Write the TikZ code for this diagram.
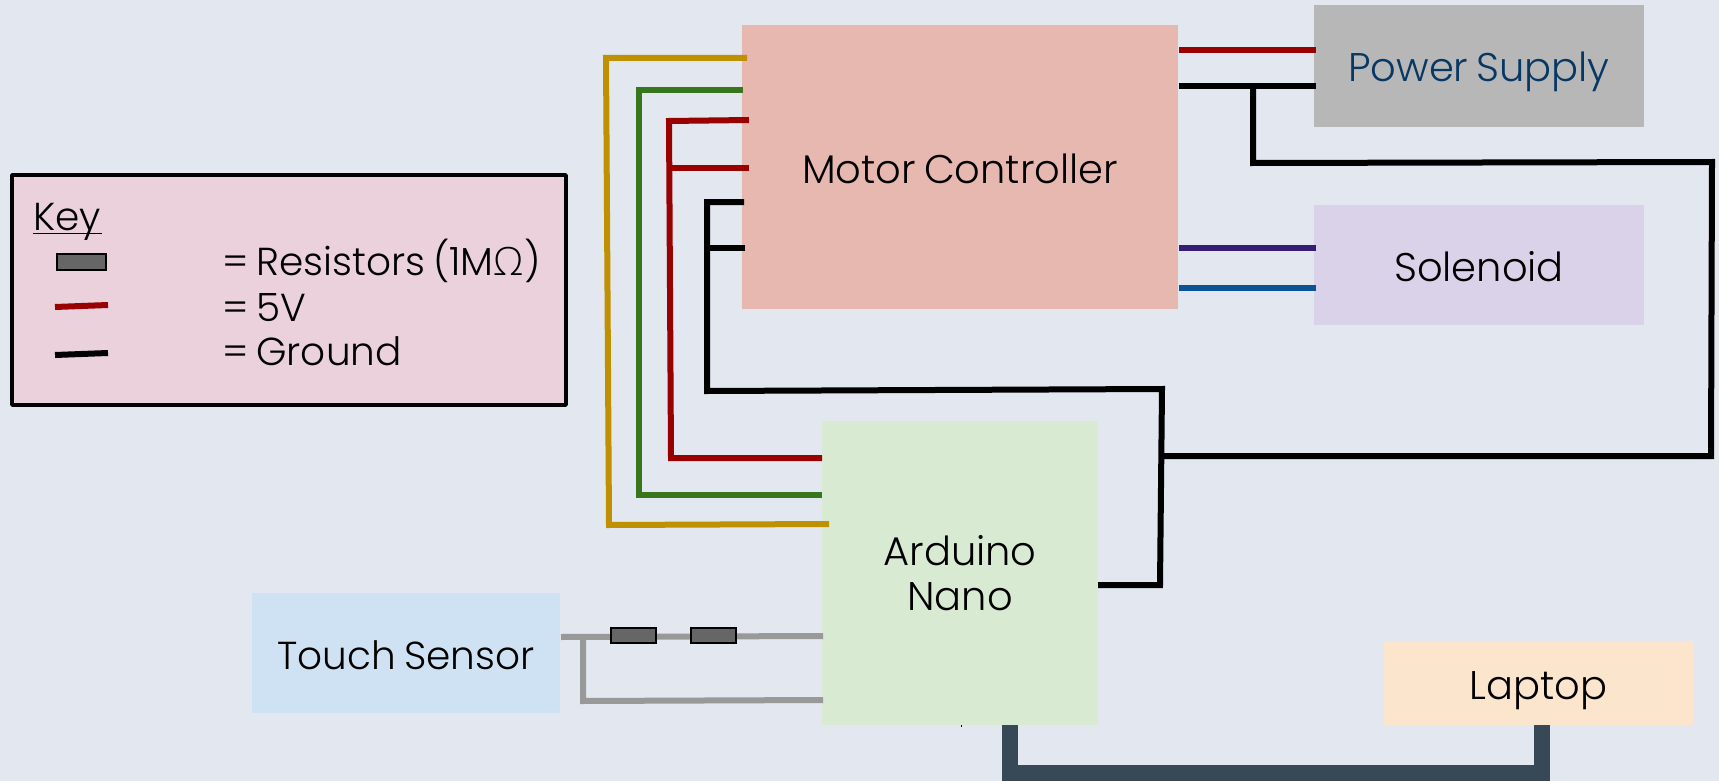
\documentclass[tikz,border=0pt]{standalone}
\usepackage{fontspec}
\setmainfont{Poppins Light}[WordSpace=0.75]
\newfontfamily\omfont{Open Sans Light}
\definecolor{bgc}{HTML}{E2E7F0}
\definecolor{motorc}{HTML}{E6B8AF}
\definecolor{powerc}{HTML}{B7B7B7}
\definecolor{solc}{HTML}{D9D2E9}
\definecolor{arduc}{HTML}{D9EAD3}
\definecolor{touchc}{HTML}{CFE2F3}
\definecolor{lapc}{HTML}{FCE5CD}
\definecolor{keyc}{HTML}{EAD1DC}
\definecolor{wred}{HTML}{990000}
\definecolor{wgold}{HTML}{BF9000}
\definecolor{wgreen}{HTML}{38761D}
\definecolor{wpurple}{HTML}{351C75}
\definecolor{wblue}{HTML}{0B5394}
\definecolor{wgrey}{HTML}{999999}
\definecolor{wdark}{HTML}{374857}
\definecolor{navy}{HTML}{073763}
\tikzset{
  box/.style={anchor=north west,inner sep=0pt,outer sep=0pt,align=center,
    font=\fontsize{40}{45}\selectfont,text=black,text height=32pt,text depth=0pt},
  wire/.style={line width=6pt,line join=miter,line cap=butt},
  resistor/.style={anchor=north west,draw=black,line width=1.5pt,fill=black!60,
    minimum width=45pt,minimum height=15pt,inner sep=0pt,outer sep=0pt},
  keytext/.style={anchor=base west,inner sep=0pt,outer sep=0pt,
    font=\fontsize{39}{44}\selectfont,text=black}
}
\begin{document}
\begin{tikzpicture}[x=1pt,y=-1pt]
\useasboundingbox (0,0) rectangle (1719,781);
\fill[bgc] (0,0) rectangle (1719,781);
% blocks
\node[box,fill=motorc,minimum width=436pt,minimum height=284pt] (motor) at (742,25) {Motor Controller};
\node[box,fill=powerc,minimum width=330pt,minimum height=122pt,text=navy] (power) at (1314,5) {Power Supply};
\node[box,fill=solc,minimum width=330pt,minimum height=120pt] (sol) at (1314,205) {Solenoid};
\node[box,fill=arduc,minimum width=276pt,minimum height=304pt,text height=,text depth=] (ardu) at (822,421) {Arduino\\Nano};
\node[box,fill=touchc,minimum width=308pt,minimum height=120pt,font=\fontsize{39}{45}\selectfont] (touch) at (252,593) {Touch Sensor};
\node[box,fill=lapc,minimum width=309pt,minimum height=84pt] (laptop) at (1384,641) {Laptop};
% junctions
\coordinate (redj) at (669,168);
\coordinate (blkj) at (707,248);
\coordinate (pwrj) at (1253,86);
\coordinate (ardj) at (1160,456);
\coordinate (grj) at (583,637);
% signal wires
\draw[wire,wgold] ([shift={(5,33)}]motor.north west) -- (606,58) -- (609,525) -- ([shift={(7,103)}]ardu.north west);
\draw[wire,wgreen] ([shift={(1,65)}]motor.north west) -- (639,90) -- (639,495) -- ([shift={(0,74)}]ardu.north west);
\draw[wire,wred] ([shift={(7,95)}]motor.north west) -- (669,121) -- (671,458) -- ([shift={(0,37)}]ardu.north west);
\draw[wire,wred] ([shift={(7,143)}]motor.north west) -- (redj);
% ground
\draw[wire,black] ([shift={(2,177)}]motor.north west) -- (707,202) -- (707,391) -- (1162,389) -- (1160,585) -- ([shift={(0,164)}]ardu.north east);
\draw[wire,black] ([shift={(3,223)}]motor.north west) -- (blkj);
\draw[wire,black] ([shift={(1,61)}]motor.north east) -- ([shift={(2,81)}]power.north west);
\draw[wire,black] (pwrj) -- (1253,163) -- (1712,162) -- (1711,456) -- (ardj);
% right side
\draw[wire,wred] ([shift={(1,25)}]motor.north east) -- ([shift={(2,45)}]power.north west);
\draw[wire,wpurple] ([shift={(1,223)}]motor.north east) -- ([shift={(2,43)}]sol.north west);
\draw[wire,wblue] ([shift={(1,263)}]motor.north east) -- ([shift={(2,83)}]sol.north west);
% touch sensor
\draw[wire,wgrey] ([shift={(1,44)}]touch.north east) -- ([shift={(1,215)}]ardu.north west);
\draw[wire,wgrey] (grj) -- (583,701) -- ([shift={(1,279)}]ardu.north west);
\node[resistor] (r1) at (611,628) {};
\node[resistor] (r2) at (691,628) {};
% laptop
\draw[line width=16pt,wdark,line join=miter] ([shift={(188,0)}]ardu.south west) -- (1010,773) -- (1542,773) -- ([shift={(158,0)}]laptop.south west);
\fill[black] (961,725) rectangle (962,727);
% key
\node[draw=black,line width=3.5pt,fill=keyc,anchor=north west,inner sep=0pt,outer sep=0pt,minimum width=554pt,minimum height=230pt,line join=round] (key) at (12,175) {};
\node[keytext] (ktitle) at (33,230) {\rlap{\rule[-4pt]{69pt}{1.5pt}}Key};
\node[resistor,minimum width=49pt,minimum height=16pt] (kr) at (57,254) {};
\node[keytext] (kt1) at (222,275) {= Resistors (1M{\omfont Ω})};
\node[keytext] (kt2) at (222,321) {= 5V};
\node[keytext] (kt3) at (222,365) {= Ground};
\coordinate (kra) at (55,307); \coordinate (krb) at (108,305);
\coordinate (kba) at (55,355); \coordinate (kbb) at (108,353);
\draw[wire,wred] (kra) -- (krb);
\draw[wire,black] (kba) -- (kbb);
\end{tikzpicture}
\end{document}
